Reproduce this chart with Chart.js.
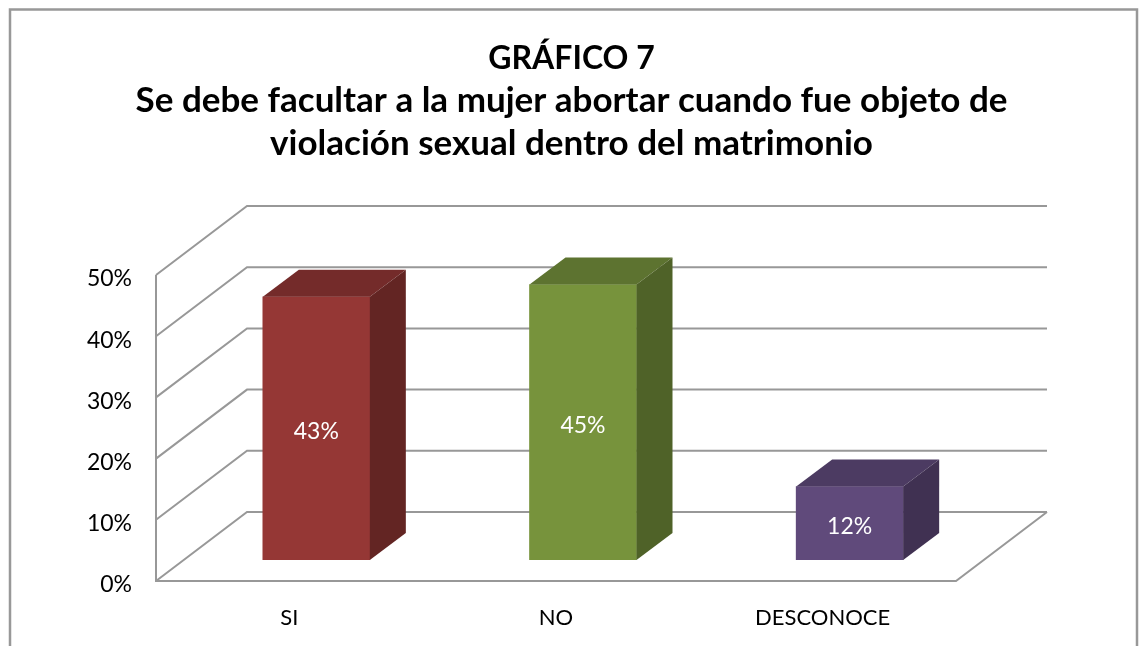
<!DOCTYPE html>
<html lang="es">
<head>
  <meta charset="UTF-8">
  <title>Gráfico 7</title>
  <script src="https://cdn.jsdelivr.net/npm/chart.js@4/dist/chart.umd.min.js"></script>
  <style>
    body { margin: 0; background: #fff; overflow: hidden; }
    canvas { display: block; }
  </style>
</head>
<body>
  <canvas id="chart" width="1143" height="646"></canvas>
  <script>
    const titleText = 'GRÁFICO 7';
    const subtitleLines = [
      'Se debe facultar a la mujer abortar cuando fue objeto de',
      'violación sexual dentro del matrimonio'
    ];
    const categories = ['SI', 'NO', 'DESCONOCE'];
    const values = [43, 45, 12];
    const tickValues = [0, 10, 20, 30, 40, 50];

    const frontColors = ['#953735', '#77933c', '#604a7b'];
    const topColors = ['#742b2a', '#5d7330', '#4c3b62'];
    const sideColors = ['#632523', '#4f6228', '#403152'];

    const fontName = 'Lato, "Open Sans", sans-serif';
    const gridColor = '#989898';
    const wall = { dx: 91, dy: -69 };       // how far the back wall sits from the front plane
    const barShift = { dx: 27, dy: -21 };   // bars stand part way into the floor
    const barDepth = { dx: 36, dy: -27 };

    function face(ctx, color, pts) {
      ctx.fillStyle = color;
      ctx.beginPath();
      pts.forEach((p, i) => i ? ctx.lineTo(p[0], p[1]) : ctx.moveTo(p[0], p[1]));
      ctx.closePath();
      ctx.fill();
    }

    const box3d = {
      id: 'box3d',
      beforeDraw(chart) {
        const ctx = chart.ctx;
        ctx.save();
        ctx.strokeStyle = gridColor;
        ctx.lineWidth = 2.5;
        ctx.beginPath();
        ctx.moveTo(10, 646);
        ctx.lineTo(10, 9.5);
        ctx.lineTo(1137, 9.5);
        ctx.lineTo(1137, 646);
        ctx.stroke();
        ctx.restore();
      },
      beforeDatasetsDraw(chart) {
        const ctx = chart.ctx;
        const y = chart.scales.y;
        const { left, right } = chart.chartArea;
        const zero = y.getPixelForValue(0);
        ctx.save();
        ctx.strokeStyle = gridColor;
        ctx.lineWidth = 2;
        ctx.lineJoin = 'miter';
        tickValues.forEach(v => {
          const py = y.getPixelForValue(v);
          ctx.beginPath();
          ctx.moveTo(left, py);
          ctx.lineTo(left + wall.dx, py + wall.dy);
          ctx.lineTo(right + wall.dx, py + wall.dy);
          ctx.stroke();
        });
        // left edge and the floor's front and right edges
        ctx.beginPath();
        ctx.moveTo(left, y.getPixelForValue(50));
        ctx.lineTo(left, zero);
        ctx.lineTo(right, zero);
        ctx.lineTo(right + wall.dx, zero + wall.dy);
        ctx.stroke();
        ctx.restore();
        // bars get drawn shifted, the restore is in afterDatasetsDraw
        ctx.save();
        ctx.translate(barShift.dx, barShift.dy);
      },
      afterDatasetsDraw(chart) {
        const ctx = chart.ctx;
        chart.getDatasetMeta(0).data.forEach((bar, i) => {
          const l = bar.x - bar.width / 2;
          const r = bar.x + bar.width / 2;
          const d = barDepth;
          face(ctx, topColors[i], [[l, bar.y], [r, bar.y], [r + d.dx, bar.y + d.dy], [l + d.dx, bar.y + d.dy]]);
          face(ctx, sideColors[i], [[r, bar.y], [r + d.dx, bar.y + d.dy], [r + d.dx, bar.base + d.dy], [r, bar.base]]);
          ctx.fillStyle = '#fff';
          ctx.font = '23px ' + fontName;
          ctx.textAlign = 'center';
          ctx.textBaseline = 'middle';
          ctx.fillText(values[i] + '%', bar.x, (bar.y + bar.base) / 2 + 3);
        });
        ctx.restore();
      }
    };

    new Chart(document.getElementById('chart'), {
      type: 'bar',
      data: {
        labels: categories,
        datasets: [{
          data: values,
          backgroundColor: frontColors,
          barThickness: 107
        }]
      },
      options: {
        responsive: false,
        animation: false,
        layout: { padding: 0 },
        plugins: {
          legend: { display: false },
          tooltip: { enabled: false },
          title: {
            display: true,
            text: titleText,
            color: '#000',
            font: { family: fontName, size: 32, weight: 'bold', lineHeight: 40 / 32 },
            padding: { top: 39, bottom: 0 }
          },
          subtitle: {
            display: true,
            text: subtitleLines,
            color: '#000',
            font: { family: fontName, size: 35, weight: 'bold', lineHeight: 43 / 35 },
            padding: { top: 0, bottom: 110 }
          }
        },
        scales: {
          x: {
            grid: { display: false },
            border: { display: false },
            ticks: { color: '#000', font: { family: fontName, size: 22 }, padding: 16, maxRotation: 0 },
            afterFit(scale) { scale.height = 65; }
          },
          y: {
            min: 0,
            max: 50,
            grid: { display: false },
            border: { display: false },
            afterBuildTicks(scale) { scale.ticks = tickValues.map(v => ({ value: v })); },
            ticks: {
              color: '#000',
              font: { family: fontName, size: 23 },
              padding: 16,
              labelOffset: 4,
              callback: v => v + '%'
            },
            afterFit(scale) { scale.width = 156; }
          },
          // empty axis, only reserves the room on the right for the 3D depth
          spacer: {
            position: 'right',
            grid: { display: false },
            border: { display: false },
            ticks: { display: false },
            afterFit(scale) { scale.width = 187; }
          }
        }
      },
      plugins: [box3d]
    });
  </script>
</body>
</html>
